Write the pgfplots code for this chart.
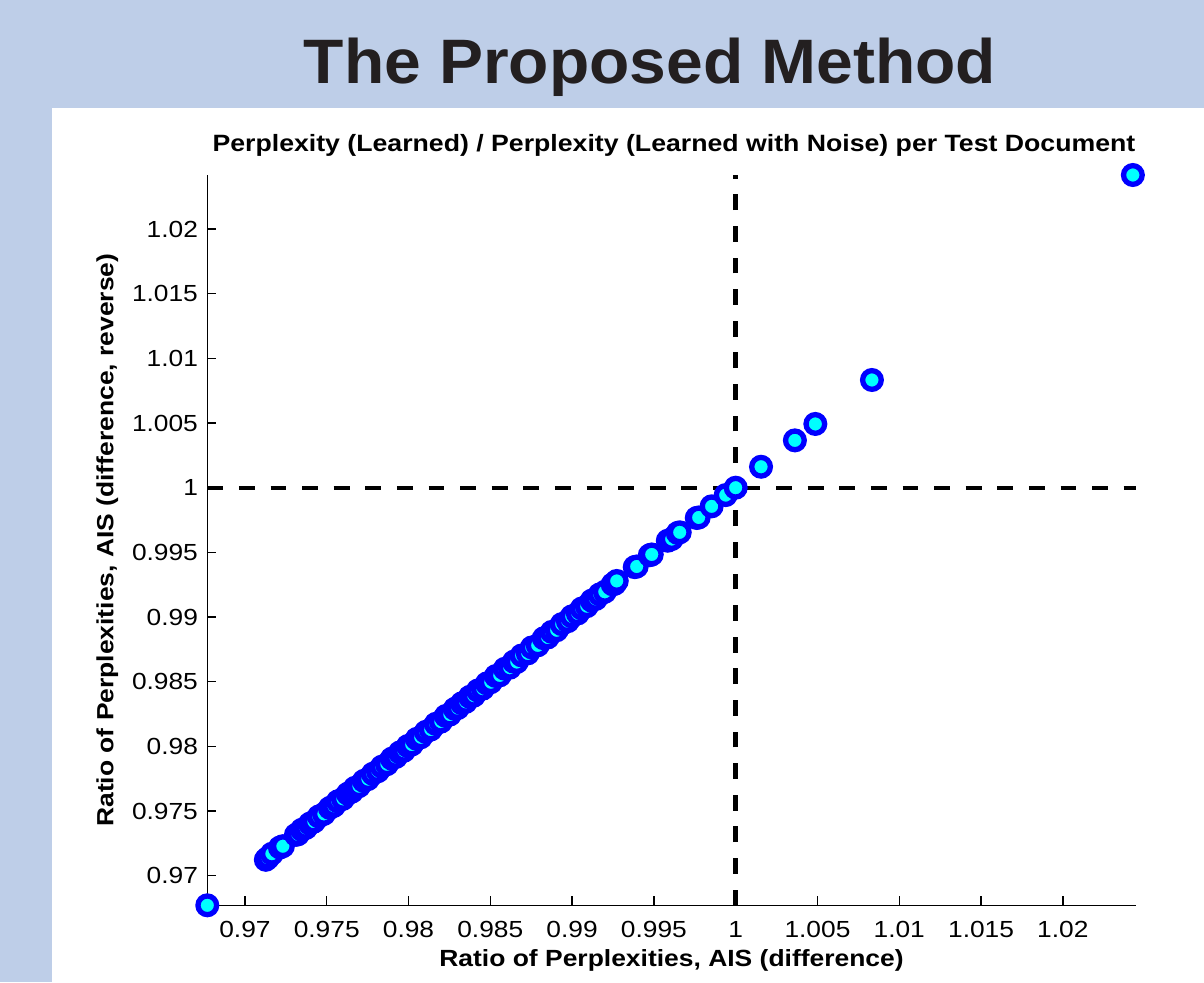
\documentclass[border=0pt]{standalone}
\usepackage{fontspec}
\setmainfont{Liberation Sans}[FakeStretch=1.13]
\newfontfamily\titlefont{Liberation Sans}[FakeStretch=1.05]
\usepackage{pgfplots}
\pgfplotsset{compat=1.18}
\definecolor{slidebg}{RGB}{190,206,232}
\definecolor{titlegray}{RGB}{35,31,32}
\definecolor{mkedge}{RGB}{0,0,255}
\definecolor{mkfill}{RGB}{0,255,255}
\begin{document}
\begin{tikzpicture}[x=1pt,y=1pt]
\fill[slidebg] (0,0) rectangle (602,491);
\fill[white] (26,0) rectangle (602,437.15);
\node[anchor=base, text=titlegray, font=\titlefont\bfseries\fontsize{31.4}{36}\selectfont, inner sep=0pt] at (325,449.35) {The Proposed Method};
\begin{axis}[
  at={(103.65pt,38.35pt)}, anchor=south west,
  scale only axis, width=464.25pt, height=365.15pt,
  xmin=0.9677, xmax=1.02446, ymin=0.96771, ymax=1.02418,
  axis x line*=bottom, axis y line*=left,
  axis line style={line width=0.65pt, black},
  tick align=inside, major tick length=4.5pt,
  every tick/.style={black, line width=0.65pt},
  scaled ticks=false,
  /pgf/number format/assume math mode=true,
  /pgf/number format/fixed, /pgf/number format/precision=3,
  xtick={0.97,0.975,0.98,0.985,0.99,0.995,1,1.005,1.01,1.015,1.02},
  ytick={0.97,0.975,0.98,0.985,0.99,0.995,1,1.005,1.01,1.015,1.02},
  xticklabel style={anchor=base, yshift=-16pt, inner sep=0pt, font=\fontsize{11.65}{14}\selectfont},
  yticklabel style={anchor=east, inner sep=0pt, xshift=-4.5pt, font=\fontsize{11.65}{14}\selectfont},
  title={Perplexity (Learned) / Perplexity (Learned with Noise) per Test Document},
  title style={at={(axis description cs:0.5026,1.0319)}, anchor=base, yshift=-6pt, inner sep=0pt, font=\bfseries\fontsize{11.8}{14}\selectfont},
  xlabel={Ratio of Perplexities, AIS (difference)},
  xlabel style={at={(axis description cs:0.5,-0.08407)}, anchor=base, inner sep=0pt, font=\bfseries\fontsize{11.7}{14}\selectfont},
  ylabel={Ratio of Perplexities, AIS (difference, reverse)},
  ylabel style={at={(axis description cs:-0.10124,0.5)}, anchor=base, inner sep=0pt, font=\bfseries\fontsize{11.7}{14}\selectfont},
  clip=false,
]
\addplot[black, line width=2.2pt, dash pattern=on 7.9pt off 7.9pt] coordinates {(1,0.96771) (1,1.02418)};
\addplot[black, line width=2.2pt, dash pattern=on 7.9pt off 7.9pt] coordinates {(0.9677,1) (1.02446,1)};
\addplot[only marks, mark=*, mark size=4.67pt, mark options={draw=mkedge, fill=mkfill, line width=2.65pt}] coordinates {
(0.96770,0.96771)
(0.97128,0.97123) (0.97141,0.97138) (0.97165,0.97170) (0.97214,0.97218) (0.97232,0.97228)
(0.97312,0.97316) (0.97324,0.97320) (0.97348,0.97355) (0.97373,0.97369) (0.97397,0.97402)
(0.97422,0.97418) (0.97452,0.97458) (0.97483,0.97478) (0.97519,0.97524) (0.97544,0.97540)
(0.97568,0.97575) (0.97599,0.97594) (0.97629,0.97634) (0.97654,0.97650) (0.97672,0.97679)
(0.97697,0.97692) (0.97727,0.97733) (0.97752,0.97747) (0.97782,0.97788) (0.97813,0.97808)
(0.97837,0.97843) (0.97868,0.97862) (0.97898,0.97905) (0.97923,0.97918) (0.97947,0.97953)
(0.97972,0.97966) (0.97996,0.98003) (0.98020,0.98014) (0.98051,0.98058) (0.98075,0.98070)
(0.98106,0.98112) (0.98136,0.98130) (0.98167,0.98174) (0.98198,0.98191) (0.98228,0.98235)
(0.98253,0.98246) (0.98283,0.98290) (0.98301,0.98296) (0.98326,0.98333) (0.98350,0.98344)
(0.98375,0.98383) (0.98399,0.98392) (0.98424,0.98432) (0.98454,0.98446) (0.98479,0.98487)
(0.98503,0.98496) (0.98534,0.98544) (0.98558,0.98549) (0.98589,0.98600) (0.98619,0.98608)
(0.98644,0.98655) (0.98662,0.98652) (0.98692,0.98703) (0.98729,0.98719) (0.98754,0.98765)
(0.98790,0.98781) (0.98827,0.98836) (0.98851,0.98842) (0.98876,0.98885) (0.98906,0.98898)
(0.98937,0.98945) (0.98974,0.98968) (0.98998,0.99005) (0.99035,0.99028) (0.99059,0.99066)
(0.99090,0.99084) (0.99120,0.99127) (0.99145,0.99140) (0.99169,0.99175) (0.99200,0.99195)
(0.99248,0.99253) (0.99261,0.99257) (0.99273,0.99279) (0.99383,0.99386) (0.99395,0.99391)
(0.99475,0.99478) (0.99487,0.99484) (0.99585,0.99590) (0.99609,0.99603) (0.99646,0.99650)
(0.99658,0.99655) (0.99762,0.99766) (0.99774,0.99770) (0.99853,0.99856) (0.99939,0.99943)
(1.00000,1.00000) (1.00155,1.00162) (1.00362,1.00366) (1.00487,1.00493) (1.00833,1.00833)
(1.02428,1.02418)
};
\end{axis}
\end{tikzpicture}
\end{document}
